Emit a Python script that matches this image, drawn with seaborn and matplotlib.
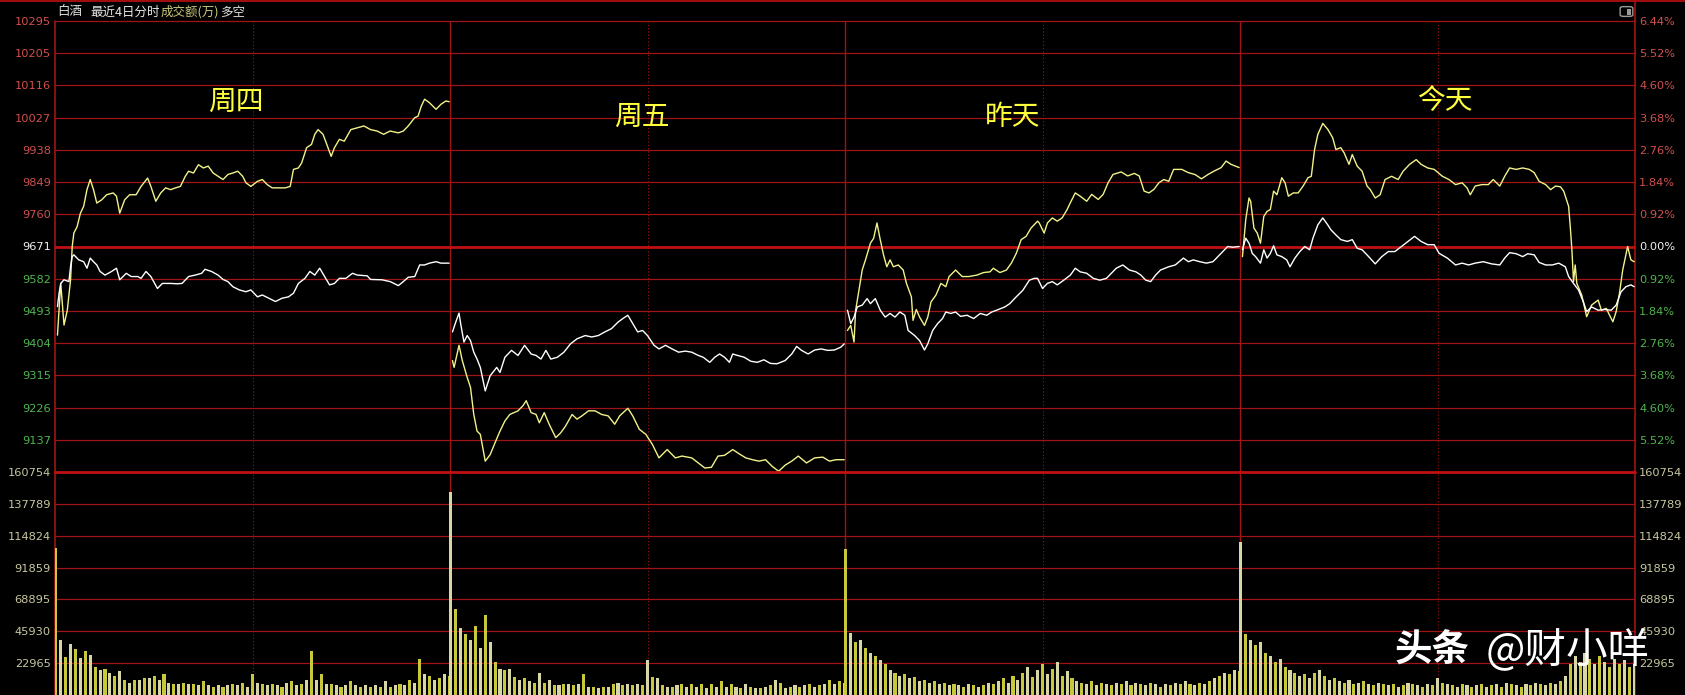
import numpy as np
import pandas as pd
import matplotlib
matplotlib.use("Agg")
import matplotlib.pyplot as plt
from matplotlib.lines import Line2D
from matplotlib.patches import FancyBboxPatch
import seaborn as sns

# 白酒 最近4日分时 —— 数据（分钟, 点位）

# 周四
D1_Y_MIN = [1, 3, 5, 7, 9, 10, 11, 13, 15, 17, 19, 21, 23, 25, 28, 31, 35, 37, 39, 42,
            45, 49, 52, 56, 58, 61, 64, 67, 70, 73, 76, 79, 81, 84, 87, 90, 93, 96, 99, 102,
            105, 108, 111, 114, 116, 119, 123, 126, 129, 132, 136, 140, 143, 145, 148, 150, 153, 156, 158, 160,
            163, 165, 168, 170, 173, 176, 180, 184, 188, 192, 196, 200, 204, 209, 212, 215, 219, 221, 223, 225,
            228, 232, 235, 238, 240]
D1_Y_VAL = [9426, 9569, 9454, 9495, 9579, 9671, 9708, 9726, 9763, 9782, 9828, 9856, 9828, 9791, 9800, 9814, 9819, 9810, 9763, 9800,
            9814, 9814, 9837, 9860, 9837, 9796, 9819, 9833, 9828, 9833, 9837, 9865, 9879, 9874, 9897, 9888, 9893, 9874, 9865, 9856,
            9870, 9874, 9879, 9865, 9847, 9837, 9851, 9856, 9842, 9833, 9833, 9833, 9837, 9884, 9888, 9902, 9944, 9953, 9981, 9994,
            9981, 9957, 9920, 9944, 9967, 9962, 9994, 9999, 10004, 9994, 9990, 9981, 9990, 9985, 9990, 10004, 10027, 10031, 10059, 10078,
            10068, 10050, 10064, 10073, 10071]
D1_W_MIN = [1, 2, 3, 5, 8, 9, 10, 11, 14, 17, 19, 21, 23, 25, 27, 30, 34, 37, 39, 43,
            46, 50, 52, 55, 58, 62, 65, 70, 74, 77, 81, 85, 89, 91, 95, 99, 102, 105, 108, 112,
            116, 119, 123, 126, 130, 134, 138, 142, 145, 148, 152, 155, 158, 161, 164, 167, 170, 173, 177, 181,
            184, 190, 192, 199, 204, 209, 212, 215, 219, 222, 225, 228, 232, 235, 240]
D1_W_VAL = [9505, 9542, 9569, 9579, 9574, 9616, 9643, 9648, 9634, 9629, 9611, 9639, 9629, 9620, 9602, 9592, 9602, 9611, 9579, 9597,
            9588, 9588, 9583, 9602, 9588, 9555, 9569, 9569, 9568, 9569, 9588, 9592, 9597, 9608, 9602, 9592, 9580, 9574, 9560, 9551,
            9546, 9551, 9532, 9537, 9528, 9519, 9528, 9532, 9542, 9569, 9583, 9602, 9592, 9611, 9588, 9565, 9569, 9583, 9583, 9597,
            9592, 9590, 9580, 9579, 9574, 9563, 9574, 9586, 9588, 9620, 9620, 9625, 9629, 9625, 9625]

# 周五
D2_Y_MIN = [1, 2, 5, 7, 10, 12, 14, 16, 18, 21, 24, 27, 30, 33, 36, 41, 44, 46, 49, 52,
            54, 57, 60, 64, 67, 70, 74, 77, 80, 84, 88, 92, 96, 100, 103, 108, 111, 115, 119, 123,
            127, 132, 137, 141, 147, 151, 155, 159, 163, 167, 172, 176, 180, 184, 188, 192, 196, 200, 204, 208,
            212, 217, 222, 227, 231, 235, 240]
D2_Y_VAL = [9356, 9337, 9398, 9356, 9309, 9282, 9207, 9161, 9152, 9078, 9096, 9129, 9161, 9189, 9207, 9217, 9231, 9245, 9212, 9207,
            9184, 9212, 9180, 9143, 9156, 9175, 9207, 9194, 9203, 9217, 9217, 9207, 9203, 9180, 9203, 9224, 9203, 9166, 9152, 9124,
            9087, 9110, 9087, 9092, 9087, 9073, 9059, 9061, 9092, 9094, 9110, 9098, 9087, 9082, 9078, 9082, 9064, 9050, 9067, 9078,
            9092, 9073, 9087, 9089, 9078, 9082, 9082]
D2_W_MIN = [1, 3, 5, 6, 8, 10, 12, 14, 16, 18, 21, 24, 28, 30, 33, 37, 41, 45, 49, 52,
            55, 58, 61, 65, 69, 73, 77, 82, 86, 90, 94, 98, 102, 105, 108, 111, 114, 117, 120, 124,
            127, 131, 135, 139, 143, 147, 151, 154, 158, 161, 164, 167, 170, 172, 175, 179, 183, 187, 191, 195,
            199, 204, 208, 211, 214, 218, 222, 226, 230, 234, 238, 240]
D2_W_VAL = [9435, 9462, 9487, 9458, 9407, 9425, 9411, 9379, 9360, 9337, 9272, 9314, 9337, 9323, 9365, 9384, 9370, 9398, 9374, 9370,
            9360, 9384, 9360, 9365, 9379, 9402, 9416, 9425, 9421, 9425, 9435, 9444, 9462, 9472, 9481, 9458, 9435, 9439, 9425, 9398,
            9388, 9398, 9388, 9379, 9382, 9379, 9370, 9365, 9351, 9365, 9374, 9365, 9351, 9374, 9370, 9365, 9354, 9351, 9358, 9348,
            9347, 9356, 9374, 9395, 9384, 9374, 9385, 9388, 9384, 9385, 9393, 9402]

# 昨天
D3_Y_MIN = [1, 3, 5, 6, 8, 10, 12, 15, 17, 19, 21, 23, 25, 27, 29, 32, 35, 37, 40, 41,
            43, 45, 48, 50, 52, 55, 58, 61, 63, 67, 71, 75, 80, 84, 88, 90, 94, 98, 101, 104,
            107, 110, 113, 117, 118, 121, 123, 126, 129, 132, 135, 137, 140, 143, 147, 150, 154, 157, 160, 163,
            168, 172, 176, 179, 182, 185, 188, 191, 194, 197, 200, 205, 209, 213, 217, 221, 225, 229, 232, 235,
            240]
D3_Y_VAL = [9439, 9453, 9407, 9495, 9550, 9606, 9634, 9680, 9694, 9736, 9690, 9648, 9615, 9634, 9615, 9620, 9606, 9569, 9532, 9467,
            9497, 9476, 9453, 9476, 9518, 9537, 9569, 9560, 9588, 9606, 9588, 9588, 9592, 9599, 9601, 9611, 9599, 9606, 9625, 9652,
            9690, 9699, 9722, 9741, 9736, 9708, 9736, 9750, 9741, 9750, 9773, 9792, 9819, 9810, 9796, 9815, 9801, 9815, 9847, 9870,
            9877, 9866, 9873, 9866, 9824, 9819, 9829, 9847, 9856, 9851, 9884, 9884, 9875, 9870, 9858, 9870, 9880, 9889, 9907, 9898,
            9889]
D3_W_MIN = [1, 3, 5, 7, 10, 13, 15, 18, 21, 24, 27, 30, 33, 36, 38, 42, 45, 48, 50, 53,
            56, 59, 61, 64, 67, 70, 74, 78, 82, 86, 89, 92, 97, 100, 104, 108, 112, 115, 117, 120,
            123, 126, 129, 133, 137, 140, 143, 147, 151, 155, 159, 162, 165, 169, 173, 177, 180, 183, 186, 189,
            192, 197, 201, 206, 209, 212, 216, 220, 224, 227, 230, 233, 236, 240]
D3_W_VAL = [9495, 9458, 9476, 9504, 9509, 9527, 9513, 9527, 9495, 9476, 9486, 9476, 9490, 9481, 9439, 9425, 9411, 9385, 9402, 9439,
            9458, 9472, 9490, 9486, 9490, 9478, 9481, 9472, 9486, 9481, 9490, 9495, 9504, 9513, 9532, 9550, 9578, 9583, 9583, 9555,
            9569, 9574, 9565, 9578, 9592, 9611, 9601, 9597, 9583, 9578, 9583, 9597, 9611, 9620, 9606, 9601, 9592, 9578, 9574, 9592,
            9606, 9615, 9620, 9639, 9629, 9634, 9629, 9625, 9629, 9643, 9657, 9671, 9669, 9671]

# 今天
D4_Y_MIN = [1, 3, 5, 6, 8, 10, 12, 14, 16, 18, 20, 22, 25, 27, 29, 32, 35, 38, 41, 43,
            45, 47, 50, 53, 56, 58, 61, 63, 66, 68, 71, 74, 77, 79, 82, 85, 88, 92, 96, 99,
            103, 107, 110, 114, 118, 123, 127, 131, 135, 138, 140, 143, 147, 151, 154, 158, 161, 164, 168, 172,
            176, 179, 182, 186, 189, 192, 195, 197, 200, 201, 202, 203, 204, 205, 208, 211, 214, 218, 220, 223,
            225, 227, 229, 231, 233, 236, 238, 240]
D4_Y_VAL = [9643, 9745, 9805, 9796, 9722, 9708, 9680, 9754, 9768, 9773, 9824, 9814, 9861, 9847, 9810, 9819, 9819, 9838, 9861, 9865,
            9939, 9981, 10011, 9995, 9972, 9939, 9944, 9930, 9898, 9925, 9893, 9879, 9838, 9828, 9805, 9814, 9856, 9865, 9856, 9879,
            9898, 9911, 9898, 9888, 9884, 9865, 9856, 9842, 9847, 9833, 9814, 9838, 9842, 9842, 9856, 9838, 9865, 9888, 9884, 9888,
            9884, 9875, 9851, 9842, 9828, 9838, 9836, 9824, 9782, 9726, 9662, 9574, 9620, 9569, 9537, 9477, 9509, 9523, 9495, 9500,
            9481, 9463, 9491, 9541, 9606, 9671, 9634, 9629]
D4_W_MIN = [1, 3, 5, 7, 9, 12, 14, 16, 18, 20, 22, 25, 28, 30, 33, 36, 39, 42, 44, 47,
            50, 53, 55, 58, 61, 65, 68, 71, 74, 78, 82, 86, 90, 94, 98, 102, 106, 110, 114, 118,
            121, 126, 131, 135, 139, 143, 148, 153, 158, 161, 164, 168, 172, 175, 179, 182, 186, 190, 194, 198,
            200, 203, 206, 209, 211, 214, 218, 222, 226, 229, 232, 235, 238, 240]
D4_W_VAL = [9662, 9694, 9680, 9652, 9643, 9625, 9662, 9639, 9652, 9673, 9648, 9643, 9634, 9615, 9639, 9657, 9671, 9662, 9694, 9731,
            9750, 9731, 9717, 9703, 9690, 9685, 9690, 9666, 9662, 9643, 9623, 9643, 9657, 9657, 9671, 9685, 9699, 9685, 9676, 9676,
            9652, 9639, 9620, 9625, 9620, 9625, 9629, 9623, 9620, 9639, 9654, 9651, 9643, 9651, 9648, 9627, 9620, 9620, 9625, 9615,
            9588, 9569, 9551, 9518, 9491, 9504, 9495, 9497, 9495, 9509, 9546, 9560, 9565, 9560]

# 成交额(万)，每3分钟一根，单位：千
D1_VOL = [106, 39.5, 27.5, 37, 33, 27, 32, 29, 20, 18, 19, 16, 14, 17, 11, 9, 11, 11, 12, 12,
          14, 11, 15, 9, 8, 8, 9, 8, 8, 7, 10, 7, 6, 7, 6, 7, 8, 7, 9, 6,
          15, 9, 8, 7, 8, 7, 6, 9, 10, 7, 8, 11, 32, 11, 15, 8, 8, 7, 6, 7,
          10, 7, 6, 7, 6, 7, 6, 10, 6, 7, 8, 7, 11, 9, 26, 15, 14, 11, 12, 15, 14]
D2_VOL = [146, 62, 48, 44, 40, 50, 34, 58, 38, 24, 19, 18, 19, 13, 11, 12, 10, 9, 16, 9,
          11, 7, 7, 8, 8, 7, 8, 15, 6, 6, 5, 6, 6, 8, 9, 7, 8, 7, 8, 7,
          25, 13, 12, 7, 6, 6, 7, 8, 6, 8, 6, 8, 5, 8, 6, 10, 6, 8, 6, 5,
          8, 6, 5, 5, 6, 7, 11, 9, 5, 6, 7, 6, 7, 8, 6, 7, 8, 11, 8, 10, 9]
D3_VOL = [105, 45, 38, 40, 34, 30, 28, 25, 22, 18, 16, 14, 15, 12, 13, 10, 11, 9, 10, 8,
          9, 7, 8, 7, 6, 8, 7, 6, 7, 9, 8, 10, 12, 9, 14, 11, 16, 20, 13, 18,
          22, 15, 19, 24, 14, 17, 12, 10, 9, 8, 10, 7, 9, 8, 7, 9, 8, 10, 7, 9,
          8, 7, 9, 8, 6, 8, 7, 9, 8, 10, 8, 7, 9, 8, 10, 12, 14, 16, 15, 18, 17]
D4_VOL = [110, 44, 40, 36, 38, 30, 28, 24, 26, 20, 18, 16, 14, 15, 12, 16, 18, 14, 11, 12,
          10, 9, 11, 8, 9, 10, 8, 7, 9, 8, 7, 8, 6, 7, 9, 8, 7, 6, 8, 7,
          12, 9, 8, 7, 6, 8, 7, 6, 7, 8, 6, 7, 8, 6, 9, 8, 7, 6, 8, 7,
          9, 8, 7, 9, 8, 10, 14, 22, 28, 24, 30, 26, 22, 28, 24, 20, 26, 22, 25, 20, 22]

DAY_NAMES = ["周四", "周五", "昨天", "今天"]
PRICE_LABELS = ["10295", "10205", "10116", "10027", "9938", "9849", "9760", "9671",
                "9582", "9493", "9404", "9315", "9226", "9137"]
PCT_LABELS = ["6.44%", "5.52%", "4.60%", "3.68%", "2.76%", "1.84%", "0.92%", "0.00%",
              "0.92%", "1.84%", "2.76%", "3.68%", "4.60%", "5.52%"]
VOL_LABELS = ["160754", "137789", "114824", "91859", "68895", "45930", "22965"]

BASE = 9671
STEP = 89
VSTEP = 22965
NMIN = 241

W, H = 1685, 695
def fx(x):
    return x / W
def fy(y):
    return 1 - y / H

GRID = "#a01414"
GRID_BOLD = "#c01010"
RED_TXT = "#d05050"
GREEN_TXT = "#50b450"
VOL_TXT = "#c8c8a0"

sns.set_theme(style="dark", rc={"axes.facecolor": "black", "figure.facecolor": "black",
                                "axes.grid": False})
plt.rcParams['font.family'] = ['Noto Sans CJK SC', 'DejaVu Sans']

fig = plt.figure(figsize=(W / 100, H / 100), dpi=100)
L, R, T, MID = 55, 1635, 21, 472
ax = fig.add_axes([fx(L), fy(MID), (R - L) / W, (MID - T) / H])
vax = fig.add_axes([fx(L), 0, (R - L) / W, (H - MID) / H])

# 分时线
days = [(D1_Y_MIN, D1_Y_VAL, D1_W_MIN, D1_W_VAL),
        (D2_Y_MIN, D2_Y_VAL, D2_W_MIN, D2_W_VAL),
        (D3_Y_MIN, D3_Y_VAL, D3_W_MIN, D3_W_VAL),
        (D4_Y_MIN, D4_Y_VAL, D4_W_MIN, D4_W_VAL)]
frames = []
for d, (ym, yv, wm, wv) in enumerate(days):
    frames.append(pd.DataFrame({"x": np.array(ym) + NMIN * d, "v": yv, "day": d, "s": "yellow"}))
    frames.append(pd.DataFrame({"x": np.array(wm) + NMIN * d, "v": wv, "day": d, "s": "white"}))
lines = pd.concat(frames, ignore_index=True)
sns.lineplot(data=lines, x="x", y="v", hue="s", units="day", estimator=None, sort=False,
             palette={"yellow": "#f2f28a", "white": "#ffffff"}, hue_order=["yellow", "white"],
             lw=1.0, legend=False, ax=ax, zorder=5)

# 成交额柱
vols = [D1_VOL, D2_VOL, D3_VOL, D4_VOL]
vx, vv = [], []
for d, vol in enumerate(vols):
    vx.extend(np.arange(0, NMIN, 3)[:len(vol)] + NMIN * d)
    vv.extend(np.array(vol) * 1000)
bar_cols = ["#c8c83a" if i % 2 == 0 else "#d6d6a6" for i in range(len(vx))]
vax.bar(vx, vv, width=1.9, color=bar_cols, linewidth=0, zorder=3)

xmin, xmax = -0.5, NMIN * 4 - 0.5
for a in (ax, vax):
    a.set_xlim(xmin, xmax)
    a.set_xticks([])
    a.set_xlabel("")
    a.set_ylabel("")
    for sp in a.spines.values():
        sp.set_visible(False)
    for d in range(1, 4):
        a.axvline(NMIN * d - 0.5, color=GRID, lw=1.0, zorder=2)
    for d in range(4):
        a.axvline(NMIN * d + 120, color=GRID, lw=0.8, ls=(0, (1, 2)), zorder=2)
    a.axvline(xmin, color=GRID, lw=1.2, clip_on=False, zorder=2)
    a.axvline(xmax, color=GRID, lw=1.2, clip_on=False, zorder=2)

ax.set_ylim(BASE - 7 * STEP, BASE + 7 * STEP)
for k in range(-6, 8):
    if k == 0:
        ax.axhline(BASE, color=GRID_BOLD, lw=2.0, zorder=2)
    else:
        ax.axhline(BASE + k * STEP, color=GRID, lw=0.9, clip_on=False, zorder=2)

vax.set_ylim(0, 7 * VSTEP)
for k in range(1, 7):
    vax.axhline(k * VSTEP, color=GRID, lw=0.9, zorder=2)
vax.axhline(7 * VSTEP, color=GRID_BOLD, lw=2.0, clip_on=False, zorder=2)

price_levels = [BASE + k * STEP for k in range(7, -7, -1)]
vol_levels = [k * VSTEP for k in range(7, 0, -1)]
price_cols = [RED_TXT] * 7 + ["#f0f0f0"] + [GREEN_TXT] * 6

ax2 = ax.twinx()
ax2.set_ylim(ax.get_ylim())
vax2 = vax.twinx()
vax2.set_ylim(vax.get_ylim())
for a in (ax2, vax2):
    a.grid(False)
    for sp in a.spines.values():
        sp.set_visible(False)

ax.set_yticks(price_levels, PRICE_LABELS)
ax2.set_yticks(price_levels, PCT_LABELS)
vax.set_yticks(vol_levels, VOL_LABELS)
vax2.set_yticks(vol_levels, VOL_LABELS)
for a in (ax, ax2, vax, vax2):
    a.tick_params(axis="y", length=0, pad=3, labelsize=8.2)
    for t in a.get_yticklabels():
        t.set_fontfamily("DejaVu Sans")
for a in (ax, ax2):
    for t, c in zip(a.get_yticklabels(), price_cols):
        t.set_color(c)
for a in (vax, vax2):
    for t in a.get_yticklabels():
        t.set_color(VOL_TXT)

# 外框线
fig.add_artist(Line2D([0, 1], [fy(0.6), fy(0.6)], color=GRID_BOLD, lw=1.2))
fig.add_artist(Line2D([fx(R), fx(R)], [fy(T), 1], color=GRID, lw=1.2))
fig.add_artist(FancyBboxPatch((fx(1621), fy(16)), 11 / W, 9 / H,
                              boxstyle="round,pad=0.0005,rounding_size=0.002",
                              ec="#9a9a9a", fc="black", lw=1.0))
fig.add_artist(FancyBboxPatch((fx(1627), fy(14.5)), 3.5 / W, 6 / H,
                              boxstyle="square,pad=0", ec="none", fc="#9a9a9a"))

# 标题
fig.text(fx(57), fy(12), "白酒", color="#e0e0e0", fontsize=9, va="center", ha="left")
fig.text(fx(90), fy(12), "最近4日分时", color="#e8e8e8", fontsize=9, va="center", ha="left")
fig.text(fx(161), fy(12), "成交额(万)", color="#c8c87a", fontsize=9, va="center", ha="left")
fig.text(fx(220), fy(12), "多空", color="#e0e0e0", fontsize=9, va="center", ha="left")

# 日期标签
day_pos = [(236, 102), (642, 117), (1013, 117), (1445, 101)]
for name, (x, y) in zip(DAY_NAMES, day_pos):
    fig.text(fx(x), fy(y), name, color="#ffff3c", fontsize=20, ha="center", va="center", zorder=10)

# 水印
fig.text(fx(1395), fy(650), "头条", color="white", fontsize=27, fontweight="bold",
         ha="left", va="center", zorder=10)
fig.text(fx(1486), fy(650), "@财小咩", color="white", fontsize=30,
         ha="left", va="center", zorder=10)

fig.savefig("out.png", dpi=100, facecolor="black")
